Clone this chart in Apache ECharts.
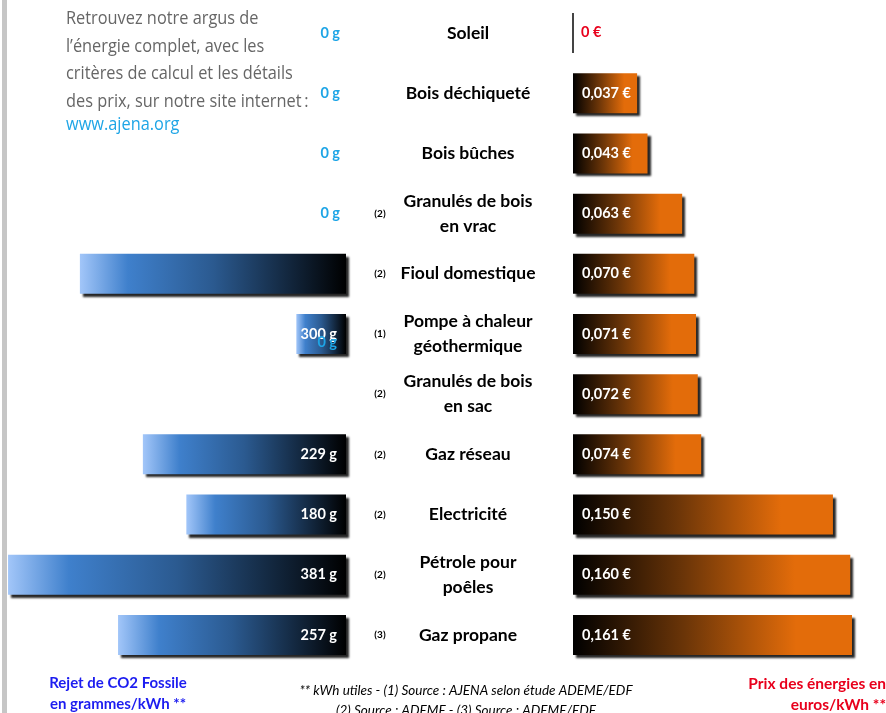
<!DOCTYPE html>
<html>
<head>
<meta charset="utf-8">
<script src="https://cdn.jsdelivr.net/npm/echarts@6/dist/echarts.min.js"></script>
<style>
  html, body { margin: 0; padding: 0; background: #ffffff; }
  #main { width: 886px; height: 713px; }
</style>
</head>
<body>
<div id="main"></div>
<script>
var categories = ['Soleil', 'Bois déchiqueté', 'Bois bûches', 'Granulés de bois\nen vrac', 'Fioul domestique',
    'Pompe à chaleur\ngéothermique', 'Granulés de bois\nen sac', 'Gaz réseau', 'Electricité', 'Pétrole pour\npoêles', 'Gaz propane'];
var notes = ['', '', '', '(2)', '(2)', '(1)', '(2)', '(2)', '(2)', '(2)', '(3)'];
var co2Values = [0, 0, 0, 0, 300, 56, 0, 229, 180, 381, 257];
var co2Labels = ['0 g', '0 g', '0 g', '0 g', '', '300 g', '', '229 g', '180 g', '381 g', '257 g'];
var co2Ghost = [null, null, null, null, null, 0, null, null, null, null, null];
var prixValues = [0, 0.037, 0.043, 0.063, 0.070, 0.071, 0.072, 0.074, 0.150, 0.160, 0.161];

var chart = echarts.init(document.getElementById('main'));

var blueGrad = new echarts.graphic.LinearGradient(0, 0, 1, 0, [
    { offset: 0, color: '#a2c6f9' },
    { offset: 0.18, color: '#3f80cc' },
    { offset: 0.5, color: '#2b5a90' },
    { offset: 1, color: '#000000' }
]);
var orangeGrad = new echarts.graphic.LinearGradient(0, 0, 1, 0, [
    { offset: 0, color: '#000000' },
    { offset: 0.4, color: '#6b3508' },
    { offset: 0.8, color: '#e36c0a' },
    { offset: 1, color: '#e36c0a' }
]);
var shadow = { shadowColor: 'rgba(0,0,0,0.85)', shadowBlur: 2, shadowOffsetX: 3, shadowOffsetY: 3 };
var introFont = '19px "Open Sans", sans-serif';

var option = {
    animation: false,
    textStyle: { fontFamily: 'Lato' },
    grid: [
        { left: 4.5, right: 540, top: 3, height: 662 },
        { left: 573, right: 18.4, top: 3, height: 662 }
    ],
    xAxis: [
        { type: 'value', gridIndex: 0, inverse: true, min: 0, max: 385, show: false },
        { type: 'value', gridIndex: 1, min: 0, max: 0.17, show: false }
    ],
    yAxis: [
        {
            type: 'category', gridIndex: 0, inverse: true, position: 'right', data: notes,
            axisLine: { show: false }, axisTick: { show: false },
            axisLabel: { align: 'center', margin: 34, fontSize: 10, fontWeight: 'bold', color: '#000' }
        },
        {
            type: 'category', gridIndex: 1, inverse: true, data: categories,
            axisLine: { show: false }, axisTick: { show: false },
            axisLabel: { align: 'center', margin: 105, fontSize: 17.5, fontWeight: 'bold', color: '#000', lineHeight: 25,
                padding: [12, 0, 0, 0] }
        }
    ],
    series: [
        {
            name: 'CO2', type: 'bar', xAxisIndex: 0, yAxisIndex: 0, barWidth: 40,
            data: co2Values,
            itemStyle: Object.assign({ color: blueGrad }, shadow),
            label: {
                show: true, position: 'insideRight', distance: 9,
                fontSize: 14.5, fontWeight: 'bold',
                formatter: function (p) { return co2Labels[p.dataIndex]; },
                color: '#fff'
            }
        },
        {
            name: 'ghost', type: 'bar', xAxisIndex: 0, yAxisIndex: 0, barWidth: 40, barGap: '-100%',
            data: co2Ghost,
            itemStyle: { color: 'transparent' },
            label: {
                show: true, position: 'insideRight', distance: 9, offset: [0, 8],
                fontSize: 14.5, fontWeight: 'bold', color: '#1ea5e6',
                formatter: '0 g'
            }
        },
        {
            name: 'Prix', type: 'bar', xAxisIndex: 1, yAxisIndex: 1, barWidth: 40,
            data: prixValues,
            itemStyle: Object.assign({ color: orangeGrad }, shadow),
            label: {
                show: true, position: 'insideLeft', distance: 9,
                fontSize: 14.5, fontWeight: 'bold', color: '#fff',
                formatter: function (p) {
                    return p.value === 0 ? '0 €' : p.value.toFixed(3).replace('.', ',') + ' €';
                }
            }
        }
    ],
    graphic: [
        { type: 'rect', left: 2, top: 0, shape: { width: 5, height: 713 }, style: { fill: '#c6c6c6' } },
        {
            type: 'text', x: 66, y: 5, scaleX: 0.86,
            style: {
                text: 'Retrouvez notre argus de\nl\u2019énergie complet, avec les\ncritères de calcul et les détails\ndes prix, sur notre site internet\u2009:',
                font: introFont, fill: '#666666', lineHeight: 27.5
            }
        },
        {
            type: 'text', x: 66, y: 115, scaleX: 0.86,
            style: { text: 'www.ajena.org', font: introFont, fill: '#1ea5e6' }
        },
        {
            type: 'text', x: 118, y: 673,
            style: {
                text: 'Rejet de CO2 Fossile\nen grammes/kWh **', align: 'center',
                font: 'bold 15px Lato', fill: '#1c1cf0', lineHeight: 21
            }
        },
        {
            type: 'text', x: 466, y: 681,
            style: {
                text: '** kWh utiles - (1) Source : AJENA selon étude ADEME/EDF\n(2) Source : ADEME - (3) Source : ADEME/EDF', align: 'center',
                font: 'italic 13.5px Lato', fill: '#000', lineHeight: 20
            }
        },
        {
            type: 'text', x: 886, y: 673,
            style: {
                text: 'Prix des énergies en\neuros/kWh **', align: 'right',
                font: 'bold 15.5px Lato', fill: '#e8001c', lineHeight: 21
            }
        }
    ]
};

// zero-value rows: blue "0 g" on the left, red "0 €" and a thin line for Soleil
option.series[0].data = co2Values.map(function (v, i) {
    if (v === 0 && co2Labels[i] !== '') {
        return { value: v, label: { color: '#1ea5e6', distance: 6 } };
    }
    return v;
});
option.series[2].data = prixValues.map(function (v) {
    if (v === 0) {
        return {
            value: v,
            itemStyle: { borderColor: '#444', borderWidth: 2, shadowColor: 'transparent' },
            label: { color: '#e8001c', offset: [0, -1] }
        };
    }
    return v;
});

chart.setOption(option);
</script>
</body>
</html>
